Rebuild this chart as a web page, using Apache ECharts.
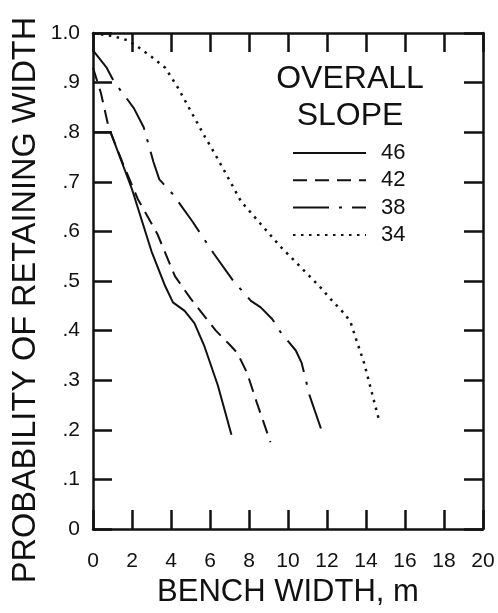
<!DOCTYPE html>
<html>
<head>
<meta charset="utf-8">
<script src="https://cdn.jsdelivr.net/npm/echarts@6/dist/echarts.min.js"></script>
<style>
  html, body { margin: 0; padding: 0; background: #ffffff; }
  #chart { width: 498px; height: 613px; }
</style>
</head>
<body>
<div id="chart"></div>
<script>
// ---- data ----
var xTickLabels = ['0', '2', '4', '6', '8', '10', '12', '14', '16', '18', '20'];
var yTickLabels = ['0', '.1', '.2', '.3', '.4', '.5', '.6', '.7', '.8', '.9', '1.0'];
var seriesNames = ['46', '42', '38', '34'];

// [bench width (m), probability of retaining width]
var slope46 = [[0, 0.80], [0.9, 0.80], [2.0, 0.685], [3.0, 0.56], [3.7, 0.49], [4.1, 0.457],
  [4.7, 0.44], [5.2, 0.415], [5.7, 0.37], [6.4, 0.29], [7.1, 0.19]];
var slope42 = [[0, 0.93], [0.4, 0.88], [0.8, 0.81], [1.5, 0.74], [2.3, 0.665], [3.3, 0.595],
  [4.2, 0.51], [5.0, 0.465], [5.5, 0.44], [6.3, 0.40], [7.0, 0.372], [7.4, 0.355],
  [7.9, 0.315], [8.4, 0.255], [9.1, 0.175]];
var slope38 = [[0, 0.965], [0.7, 0.93], [1.1, 0.90], [1.6, 0.875], [2.1, 0.848], [2.6, 0.81],
  [3.1, 0.74], [3.4, 0.705], [4.1, 0.675], [5.1, 0.62], [6.2, 0.555], [7.2, 0.50],
  [8.1, 0.46], [8.6, 0.447], [9.2, 0.423], [9.6, 0.398], [10.4, 0.36], [10.7, 0.335],
  [11.1, 0.27], [11.8, 0.19]];
var slope34 = [[0, 1.0], [1.1, 0.993], [1.8, 0.985], [2.3, 0.972], [3.0, 0.952], [3.7, 0.93],
  [4.35, 0.89], [5.05, 0.84], [5.75, 0.79], [6.2, 0.76], [6.85, 0.714], [7.6, 0.66],
  [8.6, 0.615], [9.6, 0.57], [10.6, 0.53], [11.6, 0.49], [12.2, 0.463], [12.85, 0.436],
  [13.2, 0.418], [13.5, 0.382], [13.9, 0.335], [14.2, 0.29], [14.7, 0.215]];

var xTitle = 'BENCH WIDTH, m';
var yTitle = 'PROBABILITY OF RETAINING WIDTH';
var legendTitle = 'OVERALL\nSLOPE';

// ---- chart ----
var FONT = '"Liberation Sans", Arial, Helvetica, sans-serif';
var INK = '#111111';
var chart = echarts.init(document.getElementById('chart'), null, { renderer: 'canvas' });

function baseX(pos, showLabel) {
  return {
    type: 'value', position: pos, min: 0, max: 20, interval: 2,
    axisLine: { show: true, onZero: false, lineStyle: { color: INK, width: 2.5 } },
    axisTick: { show: true, inside: true, length: 19, lineStyle: { color: INK, width: 2.5 } },
    axisLabel: {
      show: showLabel, fontSize: 21, color: INK, fontFamily: FONT, margin: 22,
      formatter: function (v) { return xTickLabels[Math.round(v / 2)]; }
    },
    splitLine: { show: false }
  };
}
function baseY(pos, showLabel) {
  return {
    type: 'value', position: pos, min: 0, max: 1, interval: 0.1,
    axisLine: { show: true, onZero: false, lineStyle: { color: INK, width: 2.5 } },
    axisTick: { show: true, inside: true, length: 19, lineStyle: { color: INK, width: 2.5 } },
    axisLabel: {
      show: showLabel, fontSize: 21, color: INK, fontFamily: FONT, margin: 13,
      formatter: function (v) { return yTickLabels[Math.round(v * 10)]; }
    },
    splitLine: { show: false }
  };
}

var xBottom = baseX('bottom', true);
xBottom.name = xTitle;
xBottom.nameLocation = 'middle';
xBottom.nameGap = 36;
xBottom.nameTextStyle = { fontSize: 31, color: INK, fontFamily: FONT };

function mkSeries(name, data, lineStyle) {
  return {
    name: name, type: 'line', data: data, symbol: 'none', smooth: false,
    xAxisIndex: 0, yAxisIndex: 0, silent: true,
    lineStyle: Object.assign({ color: INK, width: 2 }, lineStyle),
    itemStyle: { color: INK }
  };
}

chart.setOption({
  animation: false,
  backgroundColor: '#ffffff',
  textStyle: { fontFamily: FONT },
  title: {
    text: legendTitle,
    left: 350, top: 61, textAlign: 'center', padding: 0,
    textStyle: { fontSize: 32, fontWeight: 'normal', color: INK, fontFamily: FONT, lineHeight: 37 }
  },
  legend: {
    orient: 'vertical', left: 292, top: 142, padding: 0,
    itemWidth: 73, itemHeight: 14, itemGap: 5.3,
    data: seriesNames,
    itemStyle: { opacity: 0 },
    textStyle: { fontSize: 22, color: INK, fontFamily: FONT, padding: [0, 0, 0, 10], lineHeight: 22 },
    selectedMode: false
  },
  graphic: [{
    type: 'text', x: 26, y: 300, rotation: Math.PI / 2, silent: true,
    style: {
      text: yTitle, fill: INK, font: '32.5px ' + FONT,
      align: 'center', verticalAlign: 'middle'
    }
  }],
  grid: { left: 93, right: 15, top: 33, bottom: 83, containLabel: false },
  xAxis: [xBottom, baseX('top', false)],
  yAxis: [baseY('left', true), baseY('right', false)],
  series: [
    mkSeries(seriesNames[0], slope46, { type: 'solid' }),
    mkSeries(seriesNames[1], slope42, { type: [14, 8] }),
    mkSeries(seriesNames[2], slope38, { type: [36, 10, 3, 10] }),
    mkSeries(seriesNames[3], slope34, { type: [2.5, 5.5], width: 2.5 })
  ]
});
</script>
</body>
</html>
